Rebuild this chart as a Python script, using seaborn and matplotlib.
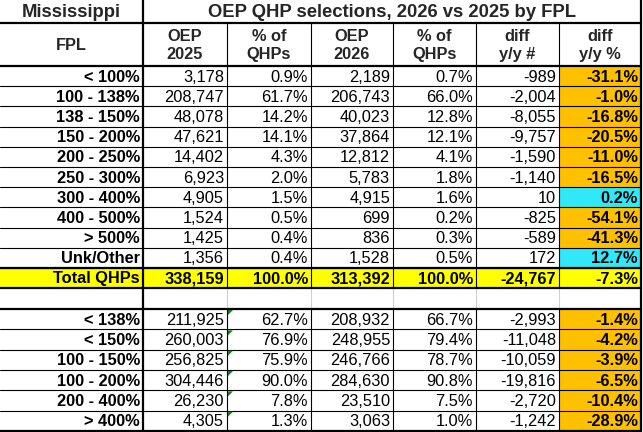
import matplotlib
matplotlib.use('Agg')
import matplotlib.pyplot as plt
import seaborn as sns
from matplotlib.patches import Rectangle, Polygon

# table values
state = 'Mississippi'
title = 'OEP QHP selections, 2026 vs 2025 by FPL'
headers = ['FPL', 'OEP\n2025', '% of\nQHPs', 'OEP\n2026', '% of\nQHPs', 'diff\ny/y #', 'diff\ny/y %']

fpl = ['< 100%', '100 - 138%', '138 - 150%', '150 - 200%', '200 - 250%',
       '250 - 300%', '300 - 400%', '400 - 500%', '> 500%', 'Unk/Other']
oep25 = [3178, 208747, 48078, 47621, 14402, 6923, 4905, 1524, 1425, 1356]
pct25 = [0.9, 61.7, 14.2, 14.1, 4.3, 2.0, 1.5, 0.5, 0.4, 0.4]
oep26 = [2189, 206743, 40023, 37864, 12812, 5783, 4915, 699, 836, 1528]
pct26 = [0.7, 66.0, 12.8, 12.1, 4.1, 1.8, 1.6, 0.2, 0.3, 0.5]
diff_n = [-989, -2004, -8055, -9757, -1590, -1140, 10, -825, -589, 172]
diff_p = [-31.1, -1.0, -16.8, -20.5, -11.0, -16.5, 0.2, -54.1, -41.3, 12.7]

total = ['Total QHPs', 338159, 100.0, 313392, 100.0, -24767, -7.3]

groups = ['< 138%', '< 150%', '100 - 150%', '100 - 200%', '200 - 400%', '> 400%']
g_oep25 = [211925, 260003, 256825, 304446, 26230, 4305]
g_pct25 = [62.7, 76.9, 75.9, 90.0, 7.8, 1.3]
g_oep26 = [208932, 248955, 246766, 284630, 23510, 3063]
g_pct26 = [66.7, 79.4, 78.7, 90.8, 7.5, 1.0]
g_diff_n = [-2993, -11048, -10059, -19816, -2720, -1242]
g_diff_p = [-1.4, -4.2, -3.9, -6.5, -10.4, -28.9]

ORANGE = '#FFC000'
CYAN = '#30E8F8'
YELLOW = '#FFFF00'

sns.set_theme(style='white')
plt.rcParams['font.family'] = ['Liberation Sans', 'DejaVu Sans']

fig = plt.figure(figsize=(6.43, 4.32), dpi=100)
ax = fig.add_axes([0, 0, 1, 1])
ax.set_xlim(0, 643)
ax.set_ylim(432, 0)
ax.axis('off')

FS = 11.8
cols = [0, 143, 227, 311, 393, 476, 559, 641]
y_title, y_head, y_data = 0, 23, 66
rh = (268 - 66) / 10
y_tot = 268
y_blank = 288
y_low = 309
rh2 = (431 - 309) / 6

def fmt_n(v):
    return f'{v:,}'

def fmt_p(v):
    return f'{v:.1f}%'

def cell_row(y, h, vals, bold_all=False, fill=None, last_fill=None):
    if fill:
        ax.add_patch(Rectangle((0, y), cols[-1], h, color=fill, lw=0, zorder=1))
    if last_fill:
        ax.add_patch(Rectangle((cols[6], y), cols[7] - cols[6], h, color=last_fill, lw=0, zorder=1))
    yc = y + h / 2 + 1
    for i, v in enumerate(vals):
        bold = bold_all or i == 0 or i == 6
        ax.text(cols[i + 1] - 3, yc, v, ha='right', va='center', fontsize=FS,
                fontweight='bold' if bold else 'normal', color='black', zorder=3)

# title row
ax.text((cols[0] + cols[1]) / 2, y_head / 2 + 1, state, ha='center', va='center',
        fontsize=13.3, fontweight='bold')
ax.text((cols[1] + cols[-1]) / 2, y_head / 2 + 1, title, ha='center', va='center',
        fontsize=13.3, fontweight='bold')

# header row
for i, h in enumerate(headers):
    ax.text((cols[i] + cols[i + 1]) / 2, (y_head + y_data) / 2 + 1, h, ha='center',
            va='center', fontsize=FS, fontweight='bold', linespacing=1.25)

# upper body
for r in range(len(fpl)):
    y = y_data + r * rh
    vals = [fpl[r], fmt_n(oep25[r]), fmt_p(pct25[r]), fmt_n(oep26[r]),
            fmt_p(pct26[r]), fmt_n(diff_n[r]), fmt_p(diff_p[r])]
    cell_row(y, rh, vals, last_fill=ORANGE if diff_p[r] < 0 else CYAN)
    ax.plot([cols[0], cols[-1]], [y + rh, y + rh], color='black', lw=0.8, zorder=2)

# total row
tvals = [total[0], fmt_n(total[1]), fmt_p(total[2]), fmt_n(total[3]),
         fmt_p(total[4]), fmt_n(total[5]), fmt_p(total[6])]
cell_row(y_tot, y_blank - y_tot, tvals, bold_all=True, fill=YELLOW)

# lower body
for r in range(len(groups)):
    y = y_low + r * rh2
    vals = [groups[r], fmt_n(g_oep25[r]), fmt_p(g_pct25[r]), fmt_n(g_oep26[r]),
            fmt_p(g_pct26[r]), fmt_n(g_diff_n[r]), fmt_p(g_diff_p[r])]
    cell_row(y, rh2, vals, last_fill=ORANGE if g_diff_p[r] < 0 else CYAN)
    if r < len(groups) - 1:
        ax.plot([cols[0], cols[-1]], [y + rh2, y + rh2], color='black', lw=0.8, zorder=2)
    ax.add_patch(Polygon([(cols[2] + 1, y + 1), (cols[2] + 6, y + 1), (cols[2] + 1, y + 6)],
                         closed=True, color='#1E7B1E', lw=0, zorder=3))

# vertical lines
for x in cols[2:-1]:
    ax.plot([x, x], [y_head, y_blank], color='black', lw=0.8, zorder=2)
    ax.plot([x, x], [y_blank, y_low], color='#D0D0D0', lw=0.8, zorder=2)
    ax.plot([x, x], [y_low, 431], color='black', lw=0.8, zorder=2)

# thick borders
thick = 1.6
for y in [y_head, y_data, y_tot, y_blank, y_low, 431]:
    ax.plot([cols[0], cols[-1]], [y, y], color='black', lw=thick, zorder=4)
ax.plot([cols[1], cols[1]], [0, 431], color='black', lw=thick, zorder=4)
ax.plot([cols[-1], cols[-1]], [0, 431], color='black', lw=thick, zorder=4)

fig.savefig('out.png', dpi=100)
